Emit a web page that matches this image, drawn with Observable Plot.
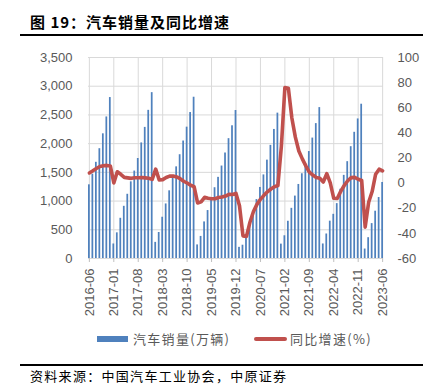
<!DOCTYPE html>
<html>
<head>
<meta charset="utf-8">
<script src="https://cdn.jsdelivr.net/npm/d3@7"></script>
<script src="https://cdn.jsdelivr.net/npm/@observablehq/plot@0.6"></script>
<style>
  body { margin: 0; background: #fff; }
  #wrap { position: relative; width: 435px; height: 389px; overflow: hidden; background: #fff;
          font-family: "Noto Sans CJK SC", "Liberation Sans", sans-serif; }
  #title { position: absolute; left: 30px; top: 12px; font-size: 15px; font-weight: bold; color: #000;
           letter-spacing: 1px; white-space: nowrap; line-height: 20px; }
  .rule { position: absolute; left: 20px; width: 403px; height: 2px; background: #000; }
  #chart { position: absolute; left: 0; top: 40px; }
  .lg { position: absolute; font-size: 13px; color: #595959; letter-spacing: 1.3px; white-space: nowrap; line-height: 16px; }
  .sw { position: absolute; }
  #source { position: absolute; left: 30px; top: 368px; font-size: 13px; color: #000; letter-spacing: 1.3px;
            white-space: nowrap; line-height: 16px; }
</style>
</head>
<body>
<div id="wrap">
  <div id="title">图 19：汽车销量及同比增速</div>
  <div class="rule" style="top:33.5px"></div>
  <div id="chart"></div>
  <div class="sw" style="left:97px;top:336px;width:31px;height:6px;background:#4F81BD"></div>
  <div class="lg" style="left:133px;top:331px">汽车销量(万辆)</div>
  <div class="sw" style="left:254px;top:337px;width:33px;height:4px;border-radius:2px;background:#C0504D"></div>
  <div class="lg" style="left:290px;top:331px">同比增速(%)</div>
  <div class="rule" style="top:364px"></div>
  <div id="source">资料来源：中国汽车工业协会，中原证券</div>
</div>
<script>
// Categories: months 2016-06 .. 2023-06
const startYear = 2016, startMonth = 6, monthCount = 85;
const months = Array.from({length: monthCount}, (_, i) => {
  const m = startMonth - 1 + i;
  const y = startYear + Math.floor(m / 12);
  return `${y}-${String(m % 12 + 1).padStart(2, "0")}`;
});

// 汽车销量 (cumulative, 万辆)
const sales = [
  1283.0, 1468.5, 1675.0, 1912.0, 2171.0, 2465.0, 2802.8,
  252.9, 446.8, 700.2, 908.6, 1118.2, 1335.0, 1522.5, 1741.3, 2012.6, 2283.1, 2579.9, 2887.9,
  280.9, 452.7, 718.3, 950.1, 1178.6, 1406.6, 1595.9, 1806.9, 2045.6, 2287.1, 2541.8, 2808.1,
  236.7, 384.3, 637.2, 835.0, 1026.6, 1232.3, 1413.2, 1610.0, 1837.1, 2086.8, 2311.0, 2576.9,
  194.1, 231.3, 367.2, 575.6, 795.5, 1025.7, 1237.1, 1455.5, 1712.8, 1969.9, 2247.3, 2531.1,
  250.3, 395.6, 648.4, 873.6, 1086.8, 1289.1, 1475.6, 1655.4, 1862.5, 2096.9, 2349.0, 2627.5,
  253.1, 426.8, 650.2, 769.2, 955.5, 1205.7, 1447.7, 1686.2, 1947.0, 2197.6, 2430.2, 2686.4,
  164.9, 362.4, 607.6, 823.5, 1061.7, 1323.9
];

// 同比增速 (%)
const yoy = [
  8.1, 9.8, 11.6, 13.2, 13.8, 14.1, 13.7,
  0.2, 9.0, 7.0, 4.6, 4.2, 3.8, 4.3, 4.3, 4.5, 4.2, 3.9, 3.0,
  11.1, 2.6, 2.8, 4.5, 5.6, 5.6, 4.9, 3.5, 1.5, 0.1, -1.7, -2.8,
  -15.8, -14.9, -11.3, -12.1, -12.4, -12.4, -11.4, -11.0, -10.3, -8.9, -9.1, -8.2,
  -18.0, -42.0, -42.4, -31.1, -22.6, -16.9, -12.9, -9.7, -6.9, -4.7, -2.9, -1.9,
  29.5, 76.1, 75.6, 51.8, 36.6, 25.6, 19.3, 13.7, 8.7, 6.4, 4.5, 3.8,
  0.9, 7.5, 0.2, -12.1, -12.2, -6.6, -1.9, 1.9, 4.4, 4.6, 3.1, 2.1,
  -35.0, -15.2, -6.7, 7.1, 11.1, 9.8
];

// Tick labels
const xTicks = ["2016-06","2017-01","2017-08","2018-03","2018-10","2019-05","2019-12",
                "2020-07","2021-02","2021-09","2022-04","2022-11","2023-06"];
const leftTicks = [0, 500, 1000, 1500, 2000, 2500, 3000, 3500];
const rightTicks = [-60, -40, -20, 0, 20, 40, 60, 80, 100];

const leftDomain = [0, 3500];
const rightDomain = [-60, 100];
const toLeft = d3.scaleLinear(rightDomain, leftDomain);

const data = months.map((m, i) => ({month: m, sales: sales[i], yoy: yoy[i]}));

const chart = Plot.plot({
  width: 435,
  height: 290,
  marginTop: 17,
  marginBottom: 72,
  marginLeft: 88,
  marginRight: 52,
  style: {fontFamily: "'Liberation Sans', Arial, sans-serif", fontSize: "13px", color: "#595959", background: "#fff"},
  x: {type: "band", domain: months, paddingInner: 0.5, paddingOuter: 0},
  y: {domain: leftDomain},
  marks: [
    Plot.gridY(leftTicks, {stroke: "#d9d9d9", strokeOpacity: 1}),
    Plot.gridX(xTicks, {stroke: "#d9d9d9", strokeOpacity: 1}),
    Plot.barY(data, {x: "month", y: "sales", fill: "#4F81BD"}),
    Plot.ruleY([0], {stroke: "#d9d9d9"}),
    Plot.line(data, {x: "month", y: d => toLeft(d.yoy), stroke: "#C0504D", strokeWidth: 3.6,
                     strokeLinejoin: "round", strokeLinecap: "round"}),
    Plot.axisX(xTicks, {tickRotate: -90, tickSize: 4, tickPadding: 6, stroke: "#bfbfbf", fill: "#595959", label: null}),
    Plot.axisY(leftTicks, {anchor: "left", tickSize: 0, tickPadding: 16, tickFormat: d3.format(","), fill: "#595959", label: null}),
    Plot.axisY(rightTicks.map(toLeft), {anchor: "right", tickSize: 0, tickPadding: 14,
               tickFormat: d => String(Math.round(toLeft.invert(d))), fill: "#595959", label: null})
  ]
});
document.getElementById("chart").appendChild(chart);
</script>
</body>
</html>
